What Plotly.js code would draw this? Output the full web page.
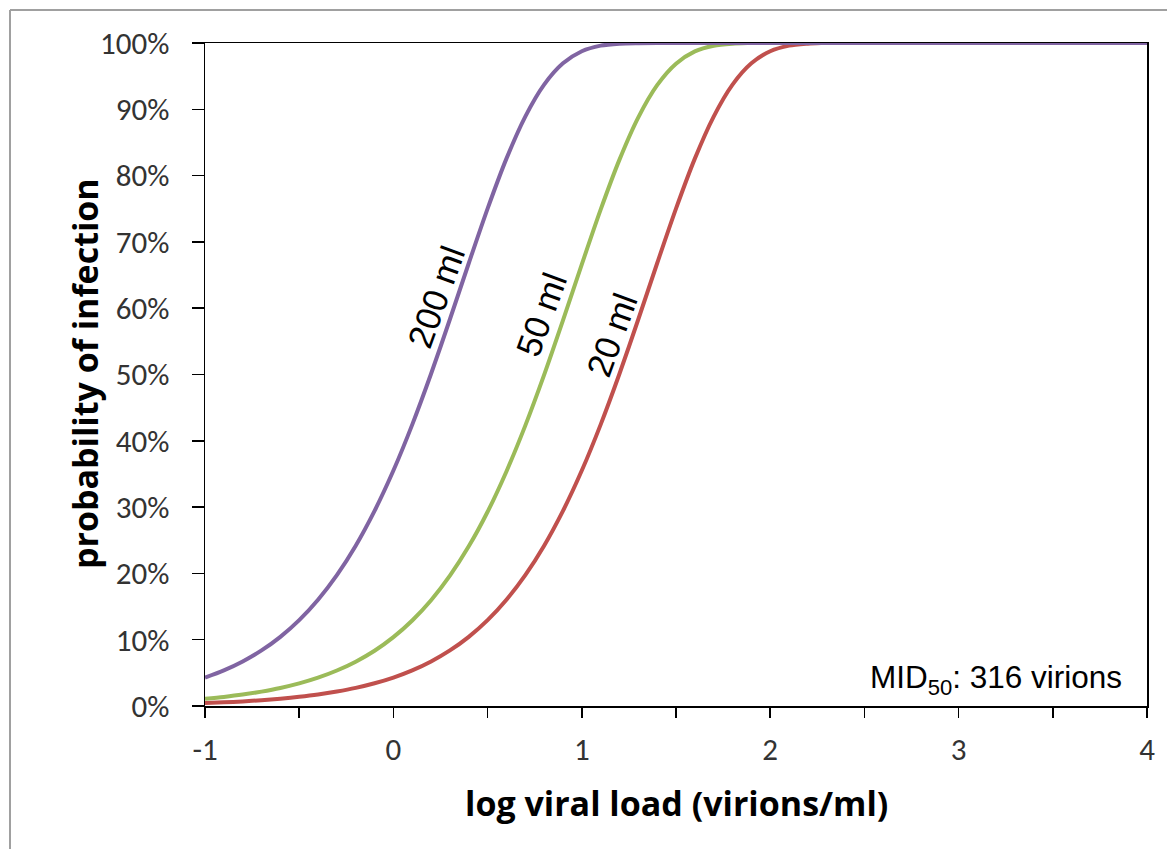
<!DOCTYPE html>
<html>
<head>
<meta charset="utf-8">
<script src="https://cdn.plot.ly/plotly-3.0.1.min.js"></script>
<style>
  html, body { margin: 0; padding: 0; background: #fff; }
  #chart { width: 1167px; height: 849px; }
</style>
</head>
<body>
<div id="chart"></div>
<script>
// ---- data ----
const logLoad200 = [-1.0,-0.9,-0.8,-0.7,-0.6,-0.5,-0.4,-0.3,-0.2,-0.1,0.0,0.1,0.2,0.3,0.4,0.5,0.6,0.7,0.8,0.9,1.0,1.1,1.2,1.3,1.4,4.0];
const prob200 = [0.0429,0.0537,0.0672,0.0838,0.1043,0.1295,0.1603,0.1974,0.2418,0.2943,0.3551,0.4244,0.5011,0.5833,0.6678,0.7502,0.8256,0.8890,0.9372,0.9693,0.9876,0.9960,0.9990,0.9998,1.0,1.0];

const logLoad50 = [-1.0,-0.9,-0.8,-0.7,-0.6,-0.5,-0.4,-0.3,-0.2,-0.1,0.0,0.1,0.2,0.3,0.4,0.5,0.6,0.7,0.8,0.9,1.0,1.1,1.2,1.3,1.4,1.5,1.6,1.7,1.8,1.88];
const prob50 = [0.0109,0.0137,0.0172,0.0217,0.0272,0.0341,0.0427,0.0535,0.0669,0.0834,0.1039,0.1290,0.1596,0.1966,0.2408,0.2930,0.3538,0.4229,0.4994,0.5816,0.6661,0.7486,0.8241,0.8879,0.9364,0.9688,0.9873,0.9959,0.9990,1.0];

const logLoad20 = [-1.0,-0.9,-0.8,-0.7,-0.6,-0.5,-0.4,-0.3,-0.2,-0.1,0.0,0.1,0.2,0.3,0.4,0.5,0.6,0.7,0.8,0.9,1.0,1.1,1.2,1.3,1.4,1.5,1.6,1.7,1.8,1.9,2.0,2.1,2.2,2.27];
const prob20 = [0.0044,0.0055,0.0069,0.0087,0.0110,0.0138,0.0173,0.0218,0.0273,0.0343,0.0429,0.0537,0.0672,0.0838,0.1043,0.1295,0.1603,0.1974,0.2418,0.2943,0.3551,0.4244,0.5011,0.5833,0.6678,0.7502,0.8256,0.8890,0.9372,0.9693,0.9876,0.9960,0.9990,1.0];

const seriesNames = ['20 ml','50 ml','200 ml'];
const xTickVals = [-1,0,1,2,3,4];
const xTickLabels = ['-1','0','1','2','3','4'];
const xMinorVals = [-0.5,0.5,1.5,2.5,3.5];
const yTickVals = [0,0.1,0.2,0.3,0.4,0.5,0.6,0.7,0.8,0.9,1.0];
const yTickLabels = ['0%','10%','20%','30%','40%','50%','60%','70%','80%','90%','100%'];
const xTitle = 'log viral load (virions/ml)';
const yTitle = 'probability of infection';
const noteText = 'MID<sub>50</sub>: 316 virions';

// ---- chart ----
const tickFont = {family: 'Carlito, Lato, sans-serif', size: 31, color: '#333333'};
const titleFont = {family: 'Open Sans, sans-serif', size: 34, color: '#000'};
const lineStyle = (c) => ({color: c, width: 4, shape: 'spline', smoothing: 0.8});

const traces = [
  {x: logLoad20, y: prob20, name: seriesNames[0], mode: 'lines', line: lineStyle('#C0504D'), cliponaxis: false},
  {x: logLoad50, y: prob50, name: seriesNames[1], mode: 'lines', line: lineStyle('#9BBB59'), cliponaxis: false},
  {x: logLoad200, y: prob200, name: seriesNames[2], mode: 'lines', line: lineStyle('#8064A2'), cliponaxis: false}
];

const labelFont = {family: 'Liberation Sans, Arial, sans-serif', size: 35, color: '#000'};

const layout = {
  width: 1167, height: 849,
  margin: {l: 205, r: 20, t: 43, b: 143},
  paper_bgcolor: '#ffffff', plot_bgcolor: '#ffffff',
  showlegend: false,
  xaxis: {
    range: [-1, 4], tickmode: 'array', tickvals: xTickVals, ticktext: xTickLabels,
    ticks: 'outside', ticklen: 10, tickwidth: 1.5, tickcolor: '#000',
    showline: true, linecolor: '#000', linewidth: 1.5, mirror: true, layer: 'below traces',
    showgrid: false, zeroline: false, tickfont: tickFont, ticklabelstandoff: 5,
    minor: {tickvals: xMinorVals, ticks: 'outside', ticklen: 10, tickwidth: 1.5, tickcolor: '#000', showgrid: false}
  },
  yaxis: {
    range: [0, 1], tickmode: 'array', tickvals: yTickVals, ticktext: yTickLabels,
    ticks: 'outside', ticklen: 12, tickwidth: 1.5, tickcolor: '#000',
    showline: true, linecolor: '#000', linewidth: 1.5, mirror: true, layer: 'below traces',
    showgrid: false, zeroline: false, tickfont: tickFont, ticklabelstandoff: 16
  },
  annotations: [
    {xref: 'paper', yref: 'paper', x: (676-205)/942, y: -(803-706)/663, xanchor: 'center', yanchor: 'middle',
     text: '<b>' + xTitle + '</b>', showarrow: false, font: titleFont},
    {xref: 'paper', yref: 'paper', x: -(205-85)/942, y: (706-374)/663, xanchor: 'center', yanchor: 'middle',
     text: '<b>' + yTitle + '</b>', textangle: -90, showarrow: false, font: titleFont},
    {xref: 'x', yref: 'y', x: 0.226, y: 0.618, text: seriesNames[2], textangle: -70, showarrow: false,
     xanchor: 'center', yanchor: 'middle', font: labelFont},
    {xref: 'x', yref: 'y', x: 0.783, y: 0.591, text: seriesNames[1], textangle: -70, showarrow: false,
     xanchor: 'center', yanchor: 'middle', font: labelFont},
    {xref: 'x', yref: 'y', x: 1.160, y: 0.560, text: seriesNames[0], textangle: -70, showarrow: false,
     xanchor: 'center', yanchor: 'middle', font: labelFont},
    {xref: 'paper', yref: 'paper', x: (1124-205)/942, y: (706-679)/663, xanchor: 'right', yanchor: 'middle',
     text: noteText, showarrow: false,
     font: {family: 'Liberation Sans, Arial, sans-serif', size: 31.5, color: '#000'}}
  ],
  shapes: [
    {type: 'line', xref: 'paper', yref: 'paper', x0: -(205-10)/942, x1: (1167-205)/942 + 0.01,
     y0: 1 + (43-10)/663, y1: 1 + (43-10)/663, line: {color: '#a0a0a0', width: 2}},
    {type: 'line', xref: 'paper', yref: 'paper', x0: -(205-10)/942, x1: -(205-10)/942,
     y0: 1 + (43-10)/663, y1: -(849-706)/663 - 0.01, line: {color: '#a0a0a0', width: 2}}
  ]
};

Plotly.newPlot('chart', traces, layout, {displayModeBar: false, staticPlot: true});
</script>
</body>
</html>
